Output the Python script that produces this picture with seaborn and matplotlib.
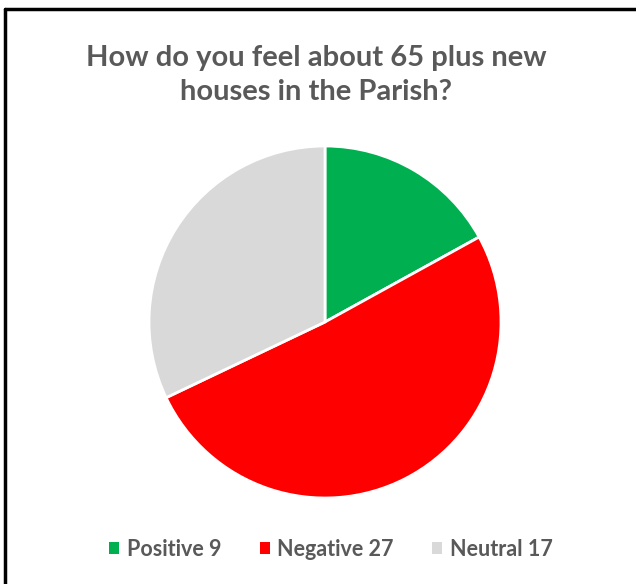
import matplotlib
matplotlib.use("Agg")
import matplotlib.pyplot as plt
import seaborn as sns
from matplotlib.lines import Line2D
from matplotlib.patches import Patch

categories = ["Positive", "Negative", "Neutral"]
values = [9, 27, 17]
colors = ["#00B050", "#FF0000", "#D9D9D9"]
title = "How do you feel about 65 plus new\nhouses in the Parish?"

sns.set_theme(style="white")
plt.rcParams['font.family'] = ['Lato', 'DejaVu Sans']

fig = plt.figure(figsize=(6.36, 5.84), dpi=100)
fig.patch.set_facecolor("white")

ax = fig.add_axes([(325 - 176) / 636, (584 - 498) / 584, 352 / 636, 352 / 584])
ax.pie(values, colors=colors, startangle=90, counterclock=False,
       wedgeprops=dict(edgecolor="white", linewidth=2.0))
ax.set_xlim(-1, 1)
ax.set_ylim(-1, 1)
ax.set_aspect("equal")
ax.axis("off")

fig.text(316 / 636, 1 - 75 / 584, title, ha="center", va="center",
         fontsize=21, fontweight="bold", color="#595959", linespacing=1.38)

handles = [Patch(facecolor=c, edgecolor="none") for c in colors]
labels = [f"{c} {v}" for c, v in zip(categories, values)]
fig.legend(handles, labels, loc="center", bbox_to_anchor=(331 / 636, 1 - 549 / 584),
           ncol=3, frameon=False, prop=dict(size=15.5, weight="bold"), labelcolor="#595959",
           handlelength=0.45, handleheight=0.45, handletextpad=0.35, columnspacing=1.8)

# frame lines (left and top)
fig.add_artist(Line2D([5 / 636, 5 / 636], [0, 1 - 9 / 584], transform=fig.transFigure,
                      color="black", linewidth=2.5))
fig.add_artist(Line2D([5 / 636, 1], [1 - 9 / 584, 1 - 9 / 584], transform=fig.transFigure,
                      color="black", linewidth=2.5))

fig.savefig("out.png", dpi=100)
